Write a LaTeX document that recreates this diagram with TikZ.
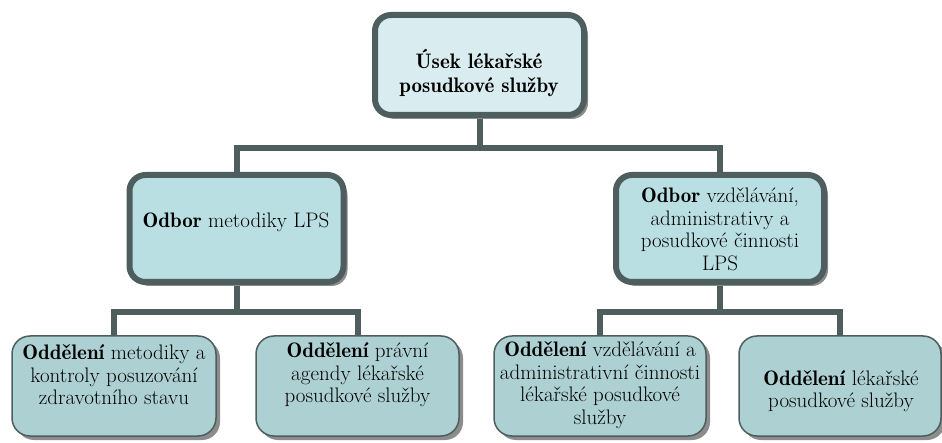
\documentclass[tikz,border=0pt]{standalone}
\usepackage{fontspec}
\newfontface\demiface{lmromandemi10-regular.otf}
\newcommand{\dm}[1]{{\demiface #1}}
\usetikzlibrary{shadows,backgrounds}
\definecolor{bord}{HTML}{4E5D5D}
\definecolor{topfill}{HTML}{D9EDF1}
\definecolor{midfill}{HTML}{B9DFE3}
\definecolor{botfill}{HTML}{ADD0D3}
\definecolor{shad}{HTML}{8C8C8C}
\begin{document}
\begin{tikzpicture}[x=1pt,y=-1pt,
  box/.style={draw=bord, inner sep=0pt, drop shadow={shadow xshift=4pt, shadow yshift=-4pt, fill=shad, opacity=1}},
  bigbox/.style={box, line width=6pt, rounded corners=16pt},
  smallbox/.style={box, line width=1.5pt, fill=botfill, rounded corners=18pt, minimum height=100pt},
  conn/.style={draw=bord, line width=6pt},
  txt/.style={align=center, font=\fontsize{21}{22.5}\selectfont, inner sep=0pt}]
\useasboundingbox (0,0) rectangle (942,443);
\coordinate (busA) at (0,148);
\coordinate (busB) at (0,312);
% boxes
\node[bigbox, fill=topfill, minimum width=209pt, minimum height=100pt] (top) at (479.5,65) {};
\node[bigbox, fill=midfill, minimum width=214pt, minimum height=107pt] (ml) at (236.5,228.5) {};
\node[bigbox, fill=midfill, minimum width=208pt, minimum height=107pt] (mr) at (720,228.5) {};
\node[smallbox, minimum width=204pt] (b1) at (114,386) {};
\node[smallbox, minimum width=203pt] (b2) at (357.5,386) {};
\node[smallbox, minimum width=212pt] (b3) at (600,386) {};
\node[smallbox, minimum width=202pt] (b4) at (840,386) {};
% texts
\node[txt, font=\fontsize{21}{23.5}\demiface] (topT) at (479,73) {Úsek lékařské\\posudkové služby};
\node[txt] (mlT) at (236,222) {\dm{Odbor} metodiky LPS};
\node[txt] (mrT) at (720,229.5) {\dm{Odbor} vzdělávání,\\administrativy a\\posudkové činnosti\\LPS};
\node[txt] (b1T) at (114,375) {\dm{Oddělení} metodiky a\\kontroly posuzování\\zdravotního stavu};
\node[txt] (b2T) at (357.5,375) {\dm{Oddělení} právní\\agendy lékařské\\posudkové služby};
\node[txt] (b3T) at (600,385) {\dm{Oddělení} vzdělávání a\\administrativní činnosti\\lékařské posudkové\\služby};
\node[txt] (b4T) at (841,391) {\dm{Oddělení} lékařské\\posudkové služby};
% connectors
\begin{scope}[on background layer]
\draw[conn] (top.south) -- (top.south |- busA);
\draw[conn] (ml.north) |- (mr.north |- busA) -- (mr.north);
\draw[conn] (ml.south) -- (ml.south |- busB);
\draw[conn] (b1.north) |- (b2.north |- busB) -- (b2.north);
\draw[conn] (mr.south) -- (mr.south |- busB);
\draw[conn] (b3.north) |- (b4.north |- busB) -- (b4.north);
\end{scope}
\end{tikzpicture}
\end{document}
